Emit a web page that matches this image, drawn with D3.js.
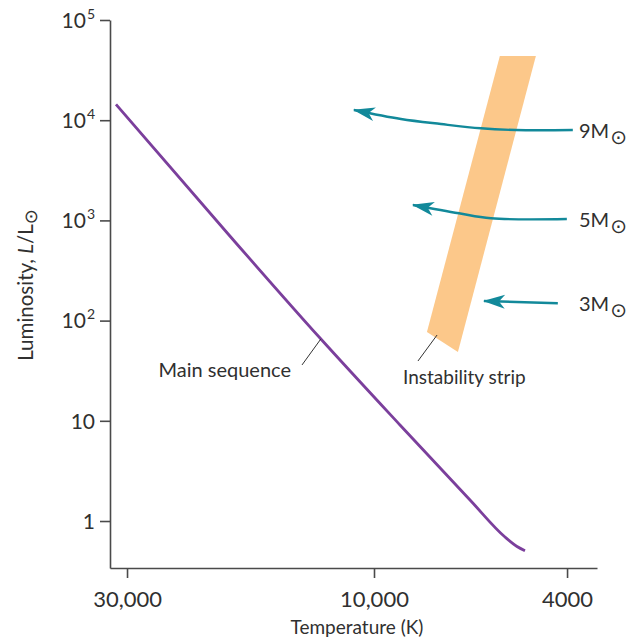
<!DOCTYPE html>
<html><head><meta charset="utf-8">
<script src="https://cdn.jsdelivr.net/npm/d3@7"></script>
<style>
body{margin:0;background:#fff}
text{font-family:Lato,"DejaVu Sans",sans-serif;fill:#303030}
</style>
</head><body><svg id="c" width="631" height="638"></svg>
<script>
// ---- data ----
const xTickValues = [30000, 10000, 4000];
const xTickLabels = ["30,000", "10,000", "4000"];
const yTickValues = [1, 10, 100, 1000, 10000, 100000];
const yTickBase = ["1", "10", "10", "10", "10", "10"];
const yTickExp  = ["", "", "2", "3", "4", "5"];

const msTemp = [31510, 19060, 12716, 8840, 6340, 5370, 5073, 4884];
const msLum  = [14410, 715, 67.0, 9.08, 1.62, 0.692, 0.557, 0.505];

const stripTemp = [5503, 4638, 6714, 7778];
const stripLum  = [43750, 43750, 48.6, 76.9];

const trackMass = ["9", "5", "3"];
const track9Temp = [3892, 5100, 6020, 7278, 8800, 10935];
const track9Lum  = [7980, 7980, 8300, 9160, 10280, 12650];
const track5Temp = [4004, 5742, 6683, 8312];
const track5Lum  = [1033, 1050, 1178, 1425];
const track3Temp = [4179, 5934];
const track3Lum  = [148.8, 156.9];
const trackLabelTemp = 3779;

// annotation anchors (data space)
const msLeaderTemp = [12670, 13774];
const msLeaderLum  = [65.5, 36.1];
const msLabelTemp = 14464, msLabelLum = 27.4;
const isLeaderTemp = [7413, 8117];
const isLeaderLum  = [71.8, 39.5];
const isLabelTemp = 8713, isLabelLum = 23.3;

// ---- scales ----
const svg = d3.select("#c");
const x = d3.scaleLog().domain([32360, 10000, 3470]).range([110, 374, 597]);
const y = d3.scaleLog().domain([0.3397, 1e5]).range([568, 20]);

const axisColor = "#4a4a4a";
const teal = "#12899a";
const purple = "#7b3f9c";

// defs
svg.append("defs").append("marker")
  .attr("id", "ah").attr("markerUnits", "userSpaceOnUse")
  .attr("viewBox", "-23 -8 25 16").attr("markerWidth", 25).attr("markerHeight", 16)
  .attr("refX", 0).attr("refY", 0).attr("orient", "auto")
  .append("path").attr("d", "M1,0 L-21,-7 L-15,0 L-21,7 Z").attr("fill", teal);

// strip
const stripPts = stripTemp.map((t, i) => [x(t), y(stripLum[i])]);
svg.append("path")
  .attr("d", d3.line()(stripPts) + "Z")
  .attr("fill", "#fcc88a");

// main sequence
const msPts = msTemp.map((t, i) => [x(t), y(msLum[i])]);
svg.append("path")
  .attr("d", d3.line().curve(d3.curveMonotoneX)(msPts))
  .attr("fill", "none").attr("stroke", purple).attr("stroke-width", 2.8);

// tracks
const tracks = [[track9Temp, track9Lum], [track5Temp, track5Lum], [track3Temp, track3Lum]];
tracks.forEach((tr, k) => {
  const pts = tr[0].map((t, i) => [x(t), y(tr[1][i])]);
  svg.append("path")
    .attr("d", d3.line().curve(d3.curveCatmullRom)(pts))
    .attr("fill", "none").attr("stroke", teal).attr("stroke-width", 2.4)
    .attr("marker-end", "url(#ah)");
  const lab = svg.append("text")
    .attr("x", x(trackLabelTemp)).attr("y", pts[0][1] + 8)
    .attr("font-size", 20);
  lab.append("tspan").text(trackMass[k] + "M");
  lab.append("tspan").attr("font-size", 20).attr("dy", 6).attr("dx", 1).text("\u2299");
});

// axes
const xAxis = svg.append("g").attr("transform", "translate(0,568)")
  .call(d3.axisBottom(x).tickValues(xTickValues)
    .tickFormat((d, i) => xTickLabels[i]).tickSize(10).tickSizeOuter(0).tickPadding(13));
xAxis.selectAll("text").attr("font-size", 22).attr("fill", "#303030")
  .attr("font-family", "Lato, DejaVu Sans, sans-serif");

const yAxis = svg.append("g").attr("transform", "translate(110,0)")
  .call(d3.axisLeft(y).tickValues(yTickValues).tickFormat("").tickSize(10).tickSizeOuter(0));
yAxis.selectAll(".tick").each(function(d, i) {
  const t = d3.select(this).append("text")
    .attr("x", -15).attr("dy", "0.35em")
    .attr("text-anchor", "end").attr("font-size", 21)
    .attr("font-family", "Lato, DejaVu Sans, sans-serif").attr("fill", "#303030");
  t.append("tspan").text(yTickBase[i]);
  if (yTickExp[i]) t.append("tspan").attr("font-size", 14).attr("dy", -9).attr("dx", 1).text(yTickExp[i]);
});
[xAxis, yAxis].forEach(g => {
  g.selectAll("path,line").attr("stroke", axisColor).attr("stroke-width", 1.6);
});

// axis titles
svg.append("text").attr("x", 357).attr("y", 634).attr("text-anchor", "middle")
  .attr("font-size", 19).text("Temperature (K)");
const yt = svg.append("text").attr("transform", "translate(33,285) rotate(-90)")
  .attr("text-anchor", "middle").attr("font-size", 20.5);
yt.append("tspan").text("Luminosity, ");
yt.append("tspan").attr("font-style", "italic").text("L");
yt.append("tspan").text("/L");
yt.append("tspan").attr("font-size", 18).attr("dy", 4).text("\u2299");

// annotations
svg.append("line")
  .attr("x1", x(msLeaderTemp[0])).attr("y1", y(msLeaderLum[0]))
  .attr("x2", x(msLeaderTemp[1])).attr("y2", y(msLeaderLum[1]))
  .attr("stroke", "#333").attr("stroke-width", 1);
svg.append("text").attr("x", x(msLabelTemp)).attr("y", y(msLabelLum))
  .attr("text-anchor", "end").attr("font-size", 20).text("Main sequence");
svg.append("line")
  .attr("x1", x(isLeaderTemp[0])).attr("y1", y(isLeaderLum[0]))
  .attr("x2", x(isLeaderTemp[1])).attr("y2", y(isLeaderLum[1]))
  .attr("stroke", "#333").attr("stroke-width", 1);
svg.append("text").attr("x", x(isLabelTemp)).attr("y", y(isLabelLum))
  .attr("font-size", 19).text("Instability strip");
</script></body></html>
